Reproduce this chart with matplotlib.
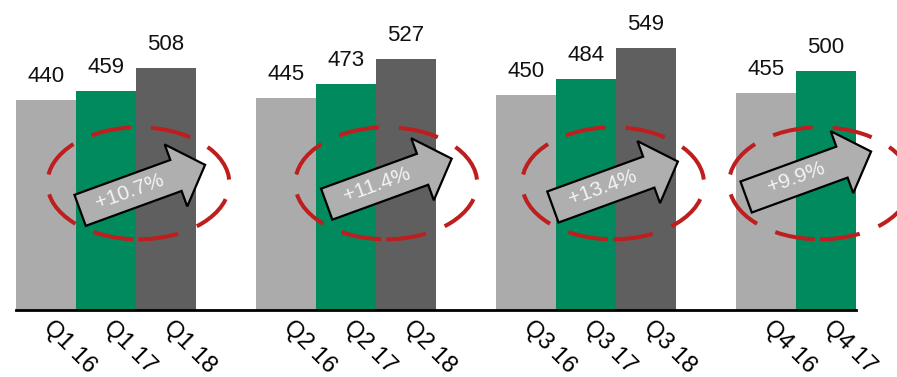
import matplotlib
matplotlib.use("Agg")
import matplotlib.pyplot as plt
from matplotlib.patches import Ellipse, Polygon
from matplotlib.transforms import Affine2D, ScaledTranslation

plt.rcParams['font.family'] = ['Liberation Sans', 'DejaVu Sans']

# ---- data ----
quarters = ['Q1', 'Q2', 'Q3', 'Q4']
years = ['16', '17', '18']
values_16 = [440, 445, 450, 455]
values_17 = [459, 473, 484, 500]
values_18 = [508, 527, 549, None]

series = [values_16, values_17, values_18]
colors = ['#ABABAB', '#008A5E', '#5F5F5F']

# ---- figure ----
W, H, DPI = 897, 377, 100
fig = plt.figure(figsize=(W / DPI, H / DPI), dpi=DPI)
ax = fig.add_axes([0, 67.5 / H, 1, 309.5 / H])
ax.set_xlim(-46 / 60, (W - 46) / 60)
ax.set_ylim(0, 650)

group_step = 4
tick_pos, tick_lab = [], []
last_pair = []
for g, q in enumerate(quarters):
    present = []
    for j, (vals, col) in enumerate(zip(series, colors)):
        v = vals[g]
        if v is None:
            continue
        x = g * group_step + j
        ax.bar(x, v, width=1.0, color=col, linewidth=0, zorder=2)
        ax.annotate(str(v), (x, v), xytext=(0, 13), textcoords='offset points',
                    ha='center', va='baseline', fontsize=16, color='#111111')
        tick_pos.append(x)
        tick_lab.append(f'{q} {years[j]}')
        present.append(v)
    last_pair.append((present[-2], present[-1]))

growth = [f'+{(b / a - 1) * 100:.1f}%' for a, b in last_pair]

# axis styling
for s in ['top', 'right', 'left']:
    ax.spines[s].set_visible(False)
ax.spines['bottom'].set_linewidth(2)
ax.spines['bottom'].set_bounds(-0.5, tick_pos[-1] + 0.5)
ax.spines['bottom'].set_zorder(5)
ax.set_yticks([])
ax.set_xticks(tick_pos)
ax.set_xticklabels(tick_lab, rotation=-45, ha='left', va='top',
                   rotation_mode='anchor', fontsize=17)
ax.tick_params(axis='x', length=0, pad=5)
shift = ScaledTranslation(6 / 72, 0, fig.dpi_scale_trans)
for t in ax.get_xticklabels():
    t.set_transform(t.get_transform() + shift)

# ---- growth call-outs: dashed ellipse + rotated arrow ----
ellipse_xy = [(1.54, 265), (5.67, 265), (9.45, 265), (12.9, 265)]
arrow_xy = [(1.61, 256), (5.72, 269), (9.49, 263), (12.71, 284)]
ELL_W, ELL_H = 182, 112          # pixels
ANGLE = 20
L, SH, HH, HL = 133, 16.5, 33, 31  # arrow length, shaft/head half-width, head length
arrow_shape = [(-L / 2, -SH), (L / 2 - HL, -SH), (L / 2 - HL, -HH), (L / 2, 0),
               (L / 2 - HL, HH), (L / 2 - HL, SH), (-L / 2, SH)]

px_x = 60.0
px_y = 309.5 / 650
for (ex, ey), (axx, ayy), lab in zip(ellipse_xy, arrow_xy, growth):
    e = Ellipse((ex, ey), ELL_W / px_x, ELL_H / px_y, fill=False,
                edgecolor='#BE1E1E', linewidth=2.9, zorder=3)
    e.set_linestyle((0, (10, 5)))
    ax.add_patch(e)

    cx, cy = ax.transData.transform((axx, ayy))
    tr = Affine2D().rotate_deg(ANGLE).translate(cx, cy)
    arr = Polygon(arrow_shape, closed=True, facecolor='#AFAFAF',
                  edgecolor='black', linewidth=1.6, transform=tr, zorder=4,
                  joinstyle='miter')
    fig.add_artist(arr)
    fig.text(-13, 1, lab, transform=tr, rotation=ANGLE, rotation_mode='anchor',
             ha='center', va='center', fontsize=15, color='#F4F4F4', zorder=6)

fig.savefig('out.png', dpi=DPI)
